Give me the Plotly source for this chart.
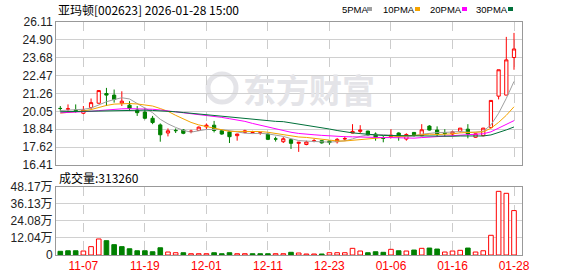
import plotly.graph_objects as go

dates = [
    "2025-11-04", "2025-11-05", "2025-11-06", "2025-11-07", "2025-11-10", "2025-11-11", "2025-11-12",
    "2025-11-13", "2025-11-14", "2025-11-17", "2025-11-18", "2025-11-19", "2025-11-20", "2025-11-21",
    "2025-11-24", "2025-11-25", "2025-11-26", "2025-11-27", "2025-11-28", "2025-12-01", "2025-12-02",
    "2025-12-03", "2025-12-04", "2025-12-05", "2025-12-08", "2025-12-09", "2025-12-10", "2025-12-11",
    "2025-12-12", "2025-12-15", "2025-12-16", "2025-12-17", "2025-12-18", "2025-12-19", "2025-12-22",
    "2025-12-23", "2025-12-24", "2025-12-25", "2025-12-26", "2025-12-29", "2025-12-30", "2025-12-31",
    "2026-01-05", "2026-01-06", "2026-01-07", "2026-01-08", "2026-01-09", "2026-01-12", "2026-01-13",
    "2026-01-14", "2026-01-15", "2026-01-16", "2026-01-19", "2026-01-20", "2026-01-21", "2026-01-22",
    "2026-01-23", "2026-01-26", "2026-01-27", "2026-01-28",
]
open_ = [20.25, 20.20, 20.14, 19.92, 20.30, 20.60, 21.26, 21.15, 20.60, 20.47,
         20.14, 20.00, 19.58, 19.13, 18.58, 18.76, 18.78, 18.68, 18.76, 19.00,
         19.11, 18.73, 18.66, 18.40, 18.62, 18.61, 18.57, 18.51, 18.18, 17.99,
         18.13, 17.88, 17.80, 18.03, 18.06, 18.04, 17.99, 18.18, 18.58, 18.69,
         18.71, 18.51, 18.23, 18.33, 18.58, 18.17, 18.62, 18.40, 19.05, 18.78,
         18.60, 18.51, 18.69, 18.84, 18.29, 18.40, 18.96, 21.08, 21.15, 23.70]
high = [20.41, 20.52, 20.52, 20.41, 20.92, 21.48, 21.64, 21.53, 21.41, 20.74,
        20.41, 20.30, 19.74, 19.23, 18.89, 18.89, 18.85, 18.80, 19.02, 19.23,
        19.40, 18.78, 18.73, 18.53, 18.80, 18.73, 18.66, 18.55, 18.33, 18.30,
        18.17, 17.98, 18.06, 18.17, 18.08, 18.06, 18.24, 18.37, 19.18, 19.11,
        18.73, 18.62, 18.40, 18.84, 18.62, 18.56, 18.64, 19.18, 19.11, 19.03,
        18.84, 18.73, 18.92, 19.18, 18.55, 18.93, 20.81, 22.87, 25.10, 25.37]
low = [20.05, 19.98, 19.96, 19.86, 20.19, 20.58, 20.41, 20.64, 20.41, 20.07,
       19.74, 19.51, 19.18, 17.99, 18.35, 18.58, 18.50, 18.56, 18.74, 18.84,
       18.62, 18.46, 17.90, 18.06, 18.56, 18.56, 18.46, 18.10, 18.00, 17.90,
       17.50, 17.30, 17.75, 17.95, 17.86, 17.78, 17.87, 18.06, 18.56, 18.56,
       18.40, 18.06, 17.95, 18.22, 18.06, 18.06, 18.33, 18.36, 18.75, 18.35,
       18.35, 18.36, 18.62, 18.22, 18.25, 18.36, 18.89, 20.86, 21.15, 22.87]
close = [20.24, 20.22, 20.10, 20.14, 20.64, 21.46, 21.15, 20.86, 20.74, 20.25,
         19.96, 19.58, 19.29, 18.46, 18.73, 18.74, 18.56, 18.70, 18.98, 19.11,
         18.75, 18.51, 18.33, 18.51, 18.73, 18.63, 18.59, 18.15, 18.17, 18.19,
         17.88, 17.95, 17.97, 18.05, 17.91, 17.93, 18.15, 18.20, 18.69, 18.78,
         18.44, 18.29, 18.21, 18.44, 18.33, 18.48, 18.46, 18.80, 18.78, 18.52,
         18.55, 18.66, 18.91, 18.51, 18.53, 18.91, 20.79, 22.87, 23.54, 24.28]
prev_close_first = 20.30
volume = [26000, 30000, 30000, 28000, 59000, 113000, 101000, 73000, 59000, 44000,
          30000, 30000, 23000, 51000, 21000, 16000, 16000, 9000, 9000, 9000,
          16000, 9000, 16000, 9000, 9000, 9000, 9000, 9000, 9000, 9000,
          19000, 14000, 7000, 7000, 7000, 16000, 16000, 16000, 47000, 28000,
          16000, 23000, 19000, 40000, 30000, 28000, 35000, 47000, 49000, 42000,
          21000, 28000, 33000, 49000, 21000, 30000, 139000, 449000, 435000, 313260]
ma5 = [20.10, 20.13, 20.15, 20.19, 20.27, 20.51, 20.70, 20.85, 20.97, 20.89,
       20.59, 20.28, 19.96, 19.51, 19.20, 18.96, 18.76, 18.64, 18.74, 18.82,
       18.82, 18.81, 18.74, 18.64, 18.57, 18.54, 18.56, 18.52, 18.45, 18.35,
       18.20, 18.07, 18.03, 18.01, 17.95, 17.96, 18.00, 18.05, 18.18, 18.35,
       18.45, 18.48, 18.48, 18.43, 18.34, 18.35, 18.38, 18.50, 18.57, 18.61,
       18.62, 18.66, 18.68, 18.63, 18.63, 18.70, 19.13, 19.92, 20.93, 22.08]
ma10 = [19.93, 19.97, 20.02, 20.08, 20.17, 20.33, 20.45, 20.54, 20.58, 20.58,
        20.55, 20.49, 20.41, 20.24, 20.05, 19.78, 19.52, 19.30, 19.13, 19.01,
        18.89, 18.78, 18.69, 18.69, 18.69, 18.68, 18.68, 18.63, 18.55, 18.46,
        18.37, 18.31, 18.28, 18.23, 18.15, 18.08, 18.04, 18.04, 18.09, 18.15,
        18.21, 18.24, 18.27, 18.30, 18.35, 18.40, 18.43, 18.49, 18.50, 18.48,
        18.49, 18.52, 18.59, 18.60, 18.62, 18.66, 18.90, 19.30, 19.78, 20.36]
ma20 = [19.95, 19.97, 19.99, 20.01, 20.05, 20.10, 20.15, 20.19, 20.22, 20.23,
        20.23, 20.22, 20.19, 20.14, 20.08, 20.03, 19.97, 19.91, 19.86, 19.80,
        19.72, 19.64, 19.55, 19.47, 19.37, 19.23, 19.10, 18.97, 18.84, 18.73,
        18.63, 18.55, 18.48, 18.46, 18.42, 18.38, 18.36, 18.33, 18.32, 18.30,
        18.29, 18.28, 18.27, 18.27, 18.25, 18.24, 18.23, 18.27, 18.30, 18.31,
        18.35, 18.38, 18.43, 18.45, 18.48, 18.53, 18.66, 18.90, 19.14, 19.42]
ma30 = [20.02, 20.03, 20.04, 20.05, 20.07, 20.09, 20.11, 20.13, 20.14, 20.14,
        20.14, 20.13, 20.11, 20.09, 20.06, 20.02, 19.97, 19.92, 19.86, 19.81,
        19.76, 19.70, 19.64, 19.59, 19.54, 19.49, 19.44, 19.40, 19.37, 19.35,
        19.27, 19.19, 19.12, 19.05, 18.96, 18.85, 18.75, 18.66, 18.59, 18.54,
        18.49, 18.45, 18.41, 18.41, 18.40, 18.39, 18.38, 18.39, 18.38, 18.36,
        18.35, 18.36, 18.38, 18.38, 18.37, 18.38, 18.45, 18.61, 18.79, 18.99]

price_ticks = [16.41, 17.62, 18.84, 20.05, 21.26, 22.47, 23.68, 24.90, 26.11]
vol_ticks = [0, 120400, 240800, 361300, 481700]
vol_tick_labels = ["0", "12.04万", "24.08万", "36.13万", "48.17万"]
date_ticks = ["2025-11-07", "2025-11-19", "2025-12-01", "2025-12-11",
              "2025-12-23", "2026-01-06", "2026-01-16", "2026-01-28"]
date_tick_labels = ["11-07", "11-19", "12-01", "12-11", "12-23", "01-06", "01-16", "01-28"]
title_text = "亚玛顿[002623] 2026-01-28 15:00"
volume_title = "成交量:313260"
ma_names = ["5PMA", "10PMA", "20PMA", "30PMA"]

RED = "#ff0000"
GREEN = "#008000"
MA_COLORS = ["#a0a0a0", "#f5a300", "#ff00ff", "#00703a"]
W, H = 578, 276
ML, MR, MT, MB = 56, 56, 22, 21
PW, PH = W - ML - MR, H - MT - MB


def px(x):
    return (x - ML) / PW


def py(y):
    return (H - MB - y) / PH


fig = go.Figure()

fig.add_trace(go.Candlestick(
    x=dates, open=open_, high=high, low=low, close=close,
    increasing=dict(line=dict(color=RED, width=1), fillcolor="#ffffff"),
    decreasing=dict(line=dict(color=GREEN, width=1), fillcolor=GREEN),
    whiskerwidth=0, showlegend=False, xaxis="x", yaxis="y", hoverinfo="skip",
))

for vals, col in zip([ma5, ma10, ma20, ma30], MA_COLORS):
    fig.add_trace(go.Scatter(x=dates, y=vals, mode="lines", line=dict(color=col, width=1),
                             showlegend=False, xaxis="x", yaxis="y", hoverinfo="skip"))

prevs = [prev_close_first] + close[:-1]
vol_up = [c >= p for c, p in zip(close, prevs)]
fig.add_trace(go.Bar(
    x=dates, y=volume,
    marker=dict(color=["#ffffff" if u else GREEN for u in vol_up],
                line=dict(color=[RED if u else GREEN for u in vol_up], width=1)),
    showlegend=False, xaxis="x2", yaxis="y2", hoverinfo="skip",
))

main_bottom = py(165)
vol_top = py(186.7)
axis_font = dict(family="Liberation Sans, Noto Sans CJK SC, sans-serif", size=12, color="#222222")
common_x = dict(type="category", range=[-0.56, 60.04], tickvals=date_ticks,
                showgrid=True, gridcolor="#cccccc", griddash="dash", gridwidth=1,
                showline=True, linecolor="#999999", linewidth=1, mirror=True,
                ticks="", zeroline=False, fixedrange=True, automargin=False)
common_y = dict(showgrid=True, gridcolor="#d0d0d0", gridwidth=1,
                showline=True, linecolor="#999999", linewidth=1, mirror=True,
                ticks="", zeroline=False, fixedrange=True, automargin=False,
                tickfont=axis_font)

fig.update_layout(
    width=W, height=H,
    margin=dict(l=ML, r=MR, t=MT, b=MB, pad=0, autoexpand=False),
    paper_bgcolor="#ffffff", plot_bgcolor="#ffffff",
    boxgap=0.4, bargap=0.4,
    xaxis=dict(**common_x, domain=[0, 1], anchor="y", showticklabels=False,
               rangeslider=dict(visible=False)),
    xaxis2=dict(**common_x, domain=[0, 1], anchor="y2", matches="x",
                ticktext=date_tick_labels, showticklabels=True,
                tickfont=dict(family="Liberation Sans, sans-serif", size=12, color=RED)),
    yaxis=dict(**common_y, domain=[main_bottom, 1], range=[16.41, 26.11], tickvals=price_ticks,
               ticktext=[f"{v:.2f}" for v in price_ticks]),
    yaxis2=dict(**common_y, domain=[0, vol_top], range=[0, 481700], tickvals=vol_ticks,
                ticktext=vol_tick_labels),
)

cjk = "Noto Sans CJK SC, sans-serif"
annotations = [
    dict(text=title_text, x=px(56), y=py(9.5), xanchor="left", yanchor="middle",
         font=dict(family=cjk, size=12, color="#000000")),
    dict(text=volume_title, x=px(57), y=py(177.5), xanchor="left", yanchor="middle",
         font=dict(family=cjk, size=12, color="#000000")),
    dict(text="东方财富", x=px(241), y=py(89), xanchor="left", yanchor="middle",
         font=dict(family=cjk, size=33, color="#e4e4e8", weight="bold")),
]
legend_x = [340, 381, 428, 474]
square_x = [367, 415, 462, 508]
shapes = []
for name, lx, sx, col in zip(ma_names, legend_x, square_x, MA_COLORS):
    annotations.append(dict(text=name, x=px(lx), y=py(9.5), xanchor="left", yanchor="middle",
                            font=dict(family="Liberation Sans, sans-serif", size=9.5, color="#000000")))
    shapes.append(dict(type="rect", xref="paper", yref="paper", x0=px(sx), x1=px(sx + 5),
                       y0=py(11), y1=py(7), fillcolor=col, line=dict(width=0)))
shapes.append(dict(type="circle", xref="paper", yref="paper", x0=px(208), x1=px(236),
                   y0=py(102), y1=py(74), line=dict(color="#e4e4e8", width=5), layer="below"))
for a in annotations:
    a.update(xref="paper", yref="paper", showarrow=False)
fig.update_layout(annotations=annotations, shapes=shapes)

fig.write_html("out.html")
